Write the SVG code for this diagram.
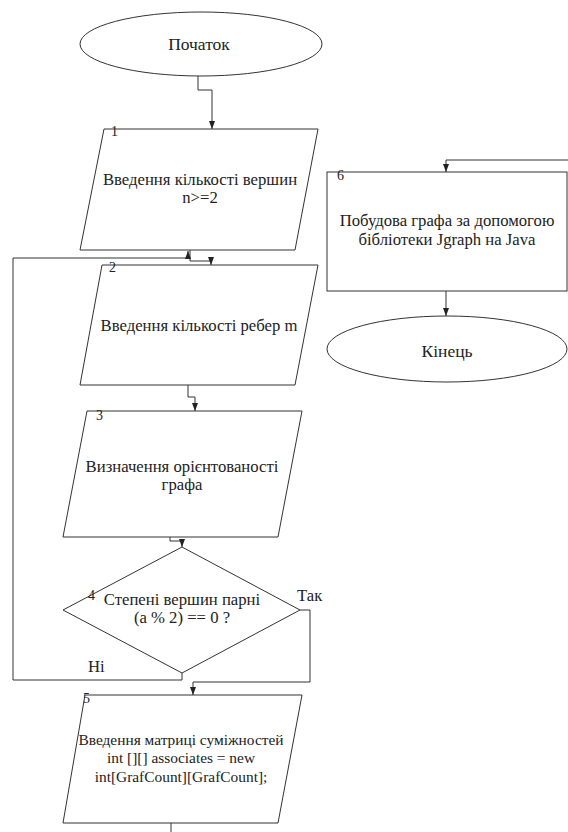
<svg xmlns="http://www.w3.org/2000/svg" width="568" height="832" viewBox="0 0 568 832">
<style>
.s{fill:#fff;stroke:#333;stroke-width:1}
.c{fill:none;stroke:#333;stroke-width:1}
text{font-family:"Liberation Serif","DejaVu Serif",serif;font-size:16.7px;fill:#222}
.m{text-anchor:middle}
.n{font-size:14px}
.t{font-size:17.5px}
.f{font-size:15.4px}
</style>
<defs>
<marker id="a" viewBox="0 0 8 8" refX="8" refY="4" markerWidth="8" markerHeight="8" orient="auto" markerUnits="userSpaceOnUse">
<path d="M0,1 L8,4 L0,7 Z" fill="#222"/>
</marker>
</defs>
<rect width="568" height="832" fill="#fff"/>
<g id="connectors">
<path class="c" d="M198,76 V90 H212 V129" marker-end="url(#a)"/>
<path class="c" d="M190,250 V261 H211 V265" marker-end="url(#a)"/>
<path class="c" d="M182,673 V680 H13 V258 H188 V251" marker-end="url(#a)"/>
<path class="c" d="M188,385 V397 H195 V411" marker-end="url(#a)"/>
<path class="c" d="M170,537 V541 H182 V547" marker-end="url(#a)"/>
<path class="c" d="M300,610 H310 V682 H193 V695" marker-end="url(#a)"/>
<path class="c" d="M171,823 V832"/>
<path class="c" d="M568,160 H446 V172" marker-end="url(#a)"/>
<path class="c" d="M446,291 V316" marker-end="url(#a)"/>
</g>
<g id="start">
<ellipse class="s" cx="201" cy="44" rx="121" ry="32"/>
<text class="m t" x="199" y="50">Початок</text>
</g>
<g id="n1">
<polygon class="s" points="104,129 318,129 295,250 80,250"/>
<text class="n" x="111" y="136">1</text>
<text class="m" x="200" y="185">Введення кількості вершин</text>
<text class="m" x="200" y="203">n&gt;=2</text>
</g>
<g id="n2">
<polygon class="s" points="102,265 318,265 295,385 80,385"/>
<text class="n" x="109" y="272">2</text>
<text class="m" x="199" y="331">Введення кількості ребер m</text>
</g>
<g id="n3">
<polygon class="s" points="87,411 302,411 278,537 63,537"/>
<text class="n" x="96" y="420">3</text>
<text class="m" x="182" y="472">Визначення орієнтованості</text>
<text class="m" x="182" y="490">графа</text>
</g>
<g id="n4">
<polygon class="s" points="182,547 300,610 182,673 63,610"/>
<text class="n" x="88" y="600">4</text>
<text class="m" x="182" y="605">Степені вершин парні</text>
<text class="m" x="182" y="623">(a % 2) == 0 ?</text>
<text x="297" y="601">Так</text>
<text x="88" y="672">Ні</text>
</g>
<g id="n5">
<polygon class="s" points="85,695 302,695 278,823 63,823"/>
<text class="n" x="83" y="703">5</text>
<text class="m f" x="181" y="745">Введення матриці суміжностей</text>
<text class="m f" x="181" y="763">int [][] associates = new</text>
<text class="m f" x="181" y="782">int[GrafCount][GrafCount];</text>
</g>
<g id="n6">
<rect class="s" x="327" y="172" width="240" height="119"/>
<text class="n" x="337" y="180">6</text>
<text class="m" x="447" y="226">Побудова графа за допомогою</text>
<text class="m" x="447" y="245">бібліотеки Jgraph на Java</text>
</g>
<g id="end">
<ellipse class="s" cx="447" cy="349" rx="120" ry="33"/>
<text class="m t" x="447" y="357">Кінець</text>
</g>
</svg>
